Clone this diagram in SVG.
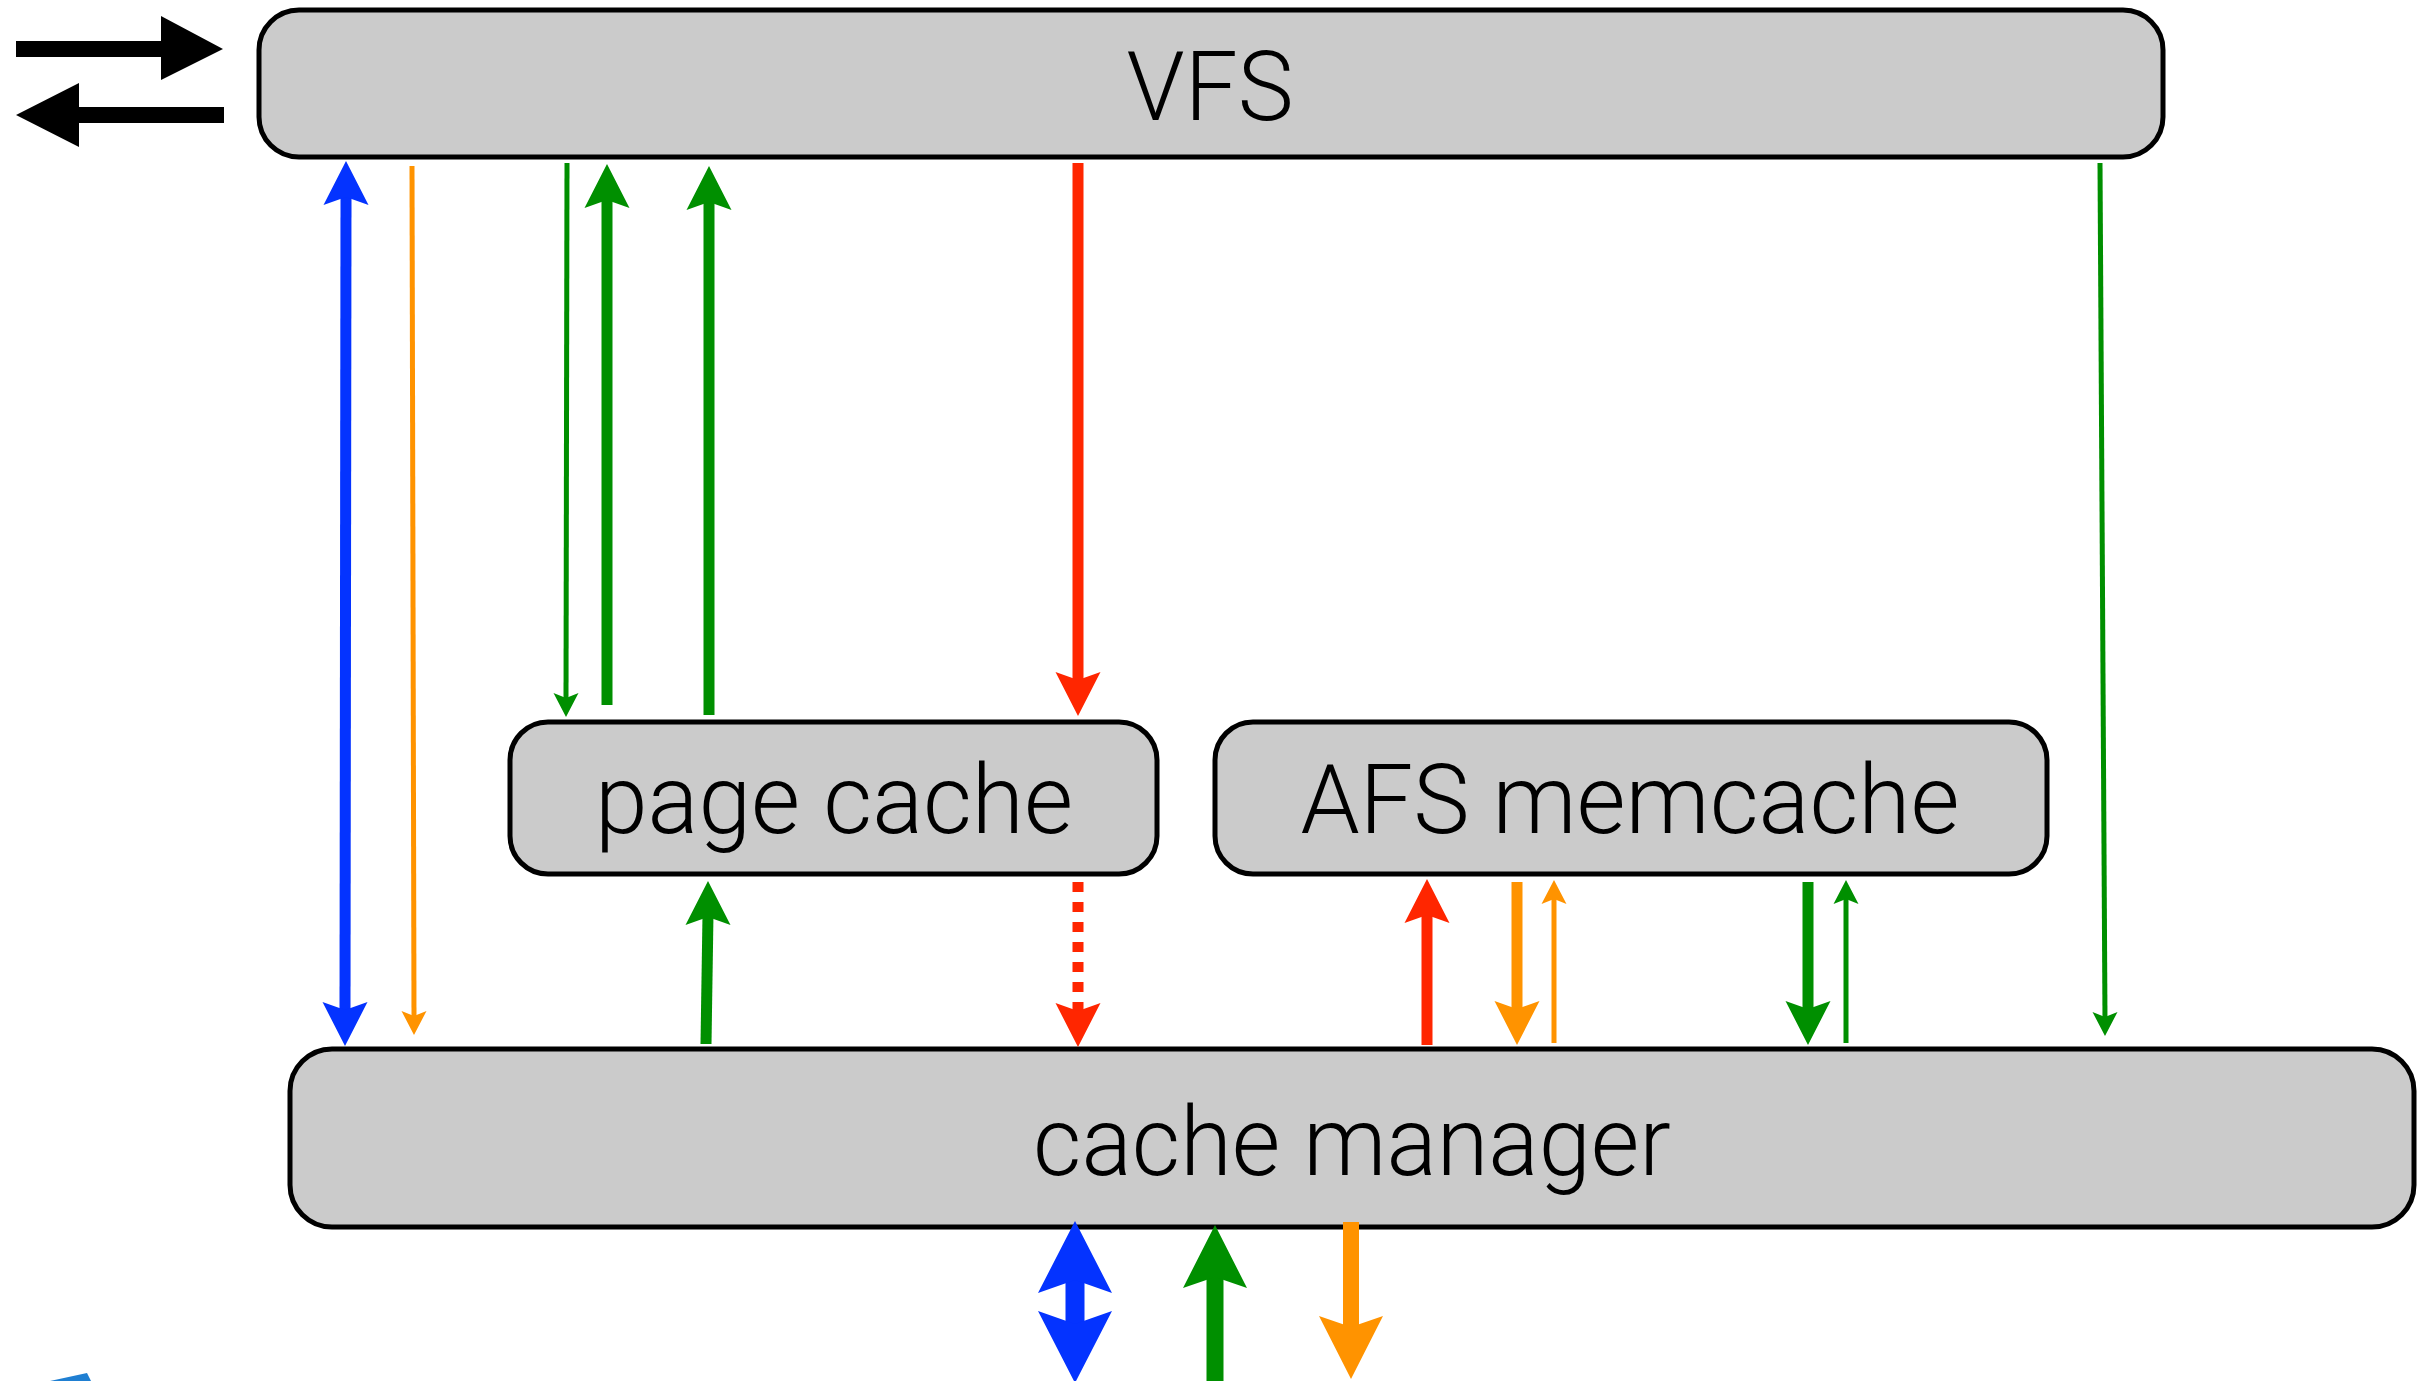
<svg xmlns="http://www.w3.org/2000/svg" xmlns:xlink="http://www.w3.org/1999/xlink" width="2429" height="1381" viewBox="0 0 2429 1381">
<style>
.box{fill:#cbcbcb;stroke:#000;stroke-width:5}
.lbl{font-family:Roboto,"Liberation Sans",Arial,sans-serif;font-weight:300;font-size:96px;fill:#000;text-anchor:middle}
.sh{fill:none;stroke-linecap:butt}
.blue{stroke:#0433ff;fill:#0433ff}
.green{stroke:#008f00;fill:#008f00}
.orange{stroke:#ff9300;fill:#ff9300}
.red{stroke:#ff2600;fill:#ff2600}
use.blue,use.green,use.orange,use.red{stroke:none}
.w5{stroke-width:5}
.w11{stroke-width:11}
.dash{stroke-dasharray:10 10}
</style>
<defs>
<path id="hs" d="M0,0 L12.5,24 L0,19 L-12.5,24 Z"/>
<path id="hm" d="M0,0 L22.5,44 L0,36 L-22.5,44 Z"/>
<path id="hb" d="M0,0 L32,63 L0,52 L-32,63 Z"/>
<path id="hx" d="M0,0 L37,72 L0,59 L-37,72 Z"/>
</defs>
<g id="vfs">
<rect class="box" x="259" y="10" width="1904" height="147" rx="40" ry="40"/>
<text class="lbl" x="1210" y="120" textLength="167" lengthAdjust="spacingAndGlyphs">VFS</text>
</g>
<g id="page-cache">
<rect class="box" x="510" y="722" width="647" height="152" rx="38" ry="38"/>
<text class="lbl" x="834" y="833" textLength="478" lengthAdjust="spacingAndGlyphs">page cache</text>
</g>
<g id="afs-memcache">
<rect class="box" x="1215" y="722" width="832" height="152" rx="38" ry="38"/>
<text class="lbl" x="1630" y="833" textLength="659" lengthAdjust="spacingAndGlyphs">AFS memcache</text>
</g>
<g id="cache-manager">
<rect class="box" x="290" y="1049" width="2124" height="178" rx="42" ry="42"/>
<text class="lbl" x="1352" y="1175" textLength="638" lengthAdjust="spacingAndGlyphs">cache manager</text>
</g>
<g id="connectors">
<polygon fill="#000" points="16,41 161,41 161,16 223,49 161,80 161,57 16,57"/>
<polygon fill="#000" points="224,107 79,107 79,83 16,115 79,147 79,123 224,123"/>
<line class="sh blue w11" x1="346" y1="192" x2="345" y2="1015"/>
<use xlink:href="#hm" class="blue" transform="translate(346,161)"/>
<use xlink:href="#hm" class="blue" transform="translate(345,1046) rotate(180)"/>
<line class="sh orange w5" x1="412" y1="166" x2="414" y2="1018"/>
<use xlink:href="#hs" class="orange" transform="translate(414,1035) rotate(180)"/>
<line class="sh green w5" x1="567" y1="163" x2="566" y2="700"/>
<use xlink:href="#hs" class="green" transform="translate(566,717) rotate(180)"/>
<line class="sh green w11" x1="607" y1="705" x2="607" y2="195"/>
<use xlink:href="#hm" class="green" transform="translate(607,164)"/>
<line class="sh green w11" x1="709" y1="715" x2="709" y2="197"/>
<use xlink:href="#hm" class="green" transform="translate(709,166)"/>
<line class="sh red w11" x1="1078" y1="163" x2="1078" y2="685"/>
<use xlink:href="#hm" class="red" transform="translate(1078,716) rotate(180)"/>
<line class="sh green w5" x1="2100" y1="163" x2="2105" y2="1019"/>
<use xlink:href="#hs" class="green" transform="translate(2105,1036) rotate(180)"/>
<line class="sh green w11" x1="706" y1="1044" x2="708" y2="914"/>
<use xlink:href="#hm" class="green" transform="translate(708,881)"/>
<line class="sh red w11 dash" x1="1078" y1="882" x2="1078" y2="1012"/>
<use xlink:href="#hm" class="red" transform="translate(1078,1047) rotate(180)"/>
<line class="sh red w11" x1="1427" y1="1045" x2="1427" y2="912"/>
<use xlink:href="#hm" class="red" transform="translate(1427,879)"/>
<line class="sh orange w11" x1="1517" y1="882" x2="1517" y2="1012"/>
<use xlink:href="#hm" class="orange" transform="translate(1517,1045) rotate(180)"/>
<line class="sh orange w5" x1="1554" y1="1043" x2="1554" y2="897"/>
<use xlink:href="#hs" class="orange" transform="translate(1554,880)"/>
<line class="sh green w11" x1="1808" y1="882" x2="1808" y2="1012"/>
<use xlink:href="#hm" class="green" transform="translate(1808,1045) rotate(180)"/>
<line class="sh green w5" x1="1846" y1="1043" x2="1846" y2="897"/>
<use xlink:href="#hs" class="green" transform="translate(1846,880)"/>
<line class="sh blue" stroke-width="19" x1="1075" y1="1276" x2="1075" y2="1328"/>
<use xlink:href="#hx" class="blue" transform="translate(1075,1221)"/>
<use xlink:href="#hx" class="blue" transform="translate(1075,1383) rotate(180)"/>
<line class="sh green" stroke-width="17" x1="1215" y1="1274" x2="1215" y2="1381"/>
<use xlink:href="#hb" class="green" transform="translate(1215,1225)"/>
<line class="sh orange" stroke-width="16" x1="1351" y1="1222" x2="1351" y2="1330"/>
<use xlink:href="#hb" class="orange" transform="translate(1351,1379) rotate(180)"/>
</g>
<polygon fill="#1f7fd2" points="50,1381 87,1373 91,1381"/>
</svg>
